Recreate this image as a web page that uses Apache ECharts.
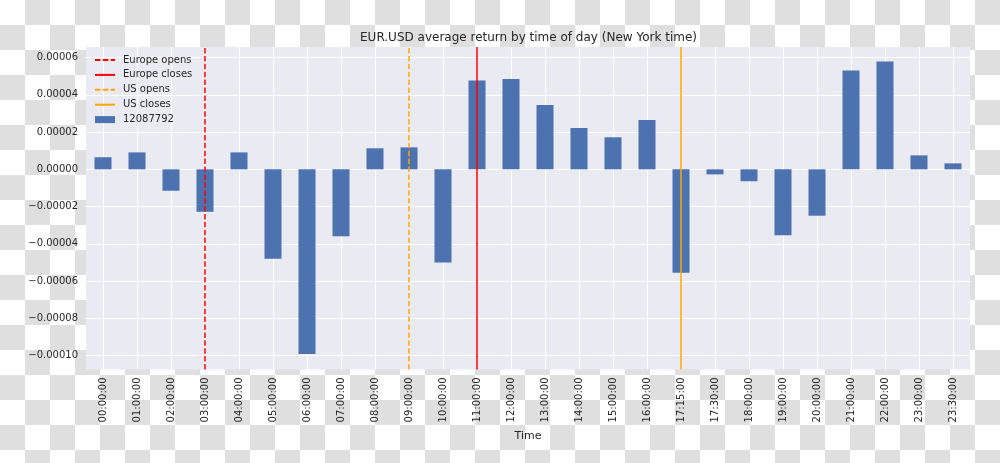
<!DOCTYPE html>
<html>
<head>
<meta charset="utf-8">
<script src="https://cdn.jsdelivr.net/npm/echarts@6/dist/echarts.min.js"></script>
<style>
html,body{margin:0;padding:0;}
body{width:1000px;height:463px;background:repeating-conic-gradient(#dfdfdf 0% 25%, #ffffff 0% 50%) 0 0 / 50px 50px;}
#chart{width:1000px;height:463px;}
</style>
</head>
<body>
<div id="chart"></div>
<script>
const categories = ['00:00:00','01:00:00','02:00:00','03:00:00','04:00:00','05:00:00','06:00:00','07:00:00','08:00:00','09:00:00','10:00:00','11:00:00','12:00:00','13:00:00','14:00:00','15:00:00','16:00:00','17:15:00','17:30:00','18:00:00','19:00:00','20:00:00','21:00:00','22:00:00','23:00:00','23:30:00'];
const returns = [0.0000065, 0.0000091, -0.0000115, -0.0000228, 0.0000091, -0.0000480, -0.0000992, -0.0000359, 0.0000113, 0.0000118, -0.0000501, 0.0000477, 0.0000485, 0.0000346, 0.0000222, 0.0000172, 0.0000265, -0.0000555, -0.0000027, -0.0000064, -0.0000354, -0.0000249, 0.0000531, 0.0000579, 0.0000075, 0.0000032];
const barName = '12087792';
const yTicks = [-0.00010, -0.00008, -0.00006, -0.00004, -0.00002, 0, 0.00002, 0.00004, 0.00006];
const yMin = -0.0001075, yMax = 0.0000657;
const eventNames = ['Europe opens', 'Europe closes', 'US opens', 'US closes'];
const eventTimes = ['03:00:00', '11:00:00', '09:00:00', '17:15:00'];
const eventColors = ['#ff0000', '#ff0000', '#ffa500', '#ffa500'];
const eventDashed = [true, false, true, false];

const font = 'DejaVu Sans';
const txt = '#262626';
const fmt = v => (v < 0 ? '\u2212' : '') + Math.abs(v).toFixed(5);

const lineSeries = eventNames.map((n, i) => ({
  name: n,
  type: 'line',
  data: [],
  symbol: 'none',
  z: 5,
  itemStyle: {color: eventColors[i]},
  lineStyle: {color: eventColors[i], width: 1.5, type: eventDashed[i] ? [5.5, 2.4] : 'solid'},
  markLine: {
    silent: true,
    symbol: ['none', 'none'],
    label: {show: false},
    animation: false,
    lineStyle: {color: eventColors[i], width: 1.5, type: eventDashed[i] ? [5.5, 2.4] : 'solid'},
    emphasis: {disabled: true},
    data: [{xAxis: eventTimes[i]}]
  }
}));

const chart = echarts.init(document.getElementById('chart'), null, {renderer: 'canvas'});
chart.setOption({
  animation: false,
  textStyle: {fontFamily: font},
  title: {
    text: 'EUR.USD average return by time of day (New York time)',
    left: 523.5, top: 27, textAlign: 'center',
    textStyle: {fontFamily: font, fontSize: 12, fontWeight: 'normal', color: txt}
  },
  legend: {
    orient: 'vertical', left: 89, top: 50,
    itemWidth: 20, itemHeight: 7, itemGap: 4.9,
    data: eventNames.map(n => ({name: n, itemStyle: {opacity: 0}})).concat([{name: barName, icon: 'rect'}]),
    textStyle: {fontFamily: font, fontSize: 10, color: txt, padding: [0, 0, 0, 3]}
  },
  grid: {left: 86, right: 30, top: 47, bottom: 93.5, show: true, backgroundColor: '#eaeaf2', borderWidth: 0},
  xAxis: {
    type: 'category', data: categories, boundaryGap: true,
    name: 'Time', nameLocation: 'middle', nameGap: 59,
    nameTextStyle: {fontFamily: font, fontSize: 11, color: txt},
    axisLine: {show: false}, axisTick: {show: false, alignWithLabel: true, interval: 0},
    axisLabel: {rotate: 90, interval: 0, margin: 8, fontFamily: font, fontSize: 10, color: txt},
    splitLine: {show: true, interval: 0, alignWithLabel: true, lineStyle: {color: '#ffffff', width: 1}}
  },
  yAxis: {
    type: 'value', min: yMin, max: yMax,
    axisLine: {show: false},
    axisTick: {show: false, customValues: yTicks},
    axisLabel: {customValues: yTicks, formatter: fmt, margin: 8, fontFamily: font, fontSize: 10, color: txt},
    splitLine: {show: true, lineStyle: {color: '#ffffff', width: 1}}
  },
  series: lineSeries.concat([{
    name: barName, type: 'bar', data: returns, barWidth: '50%', z: 2,
    itemStyle: {color: '#4c72b0'},
    emphasis: {disabled: true}
  }])
});
</script>
</body>
</html>
